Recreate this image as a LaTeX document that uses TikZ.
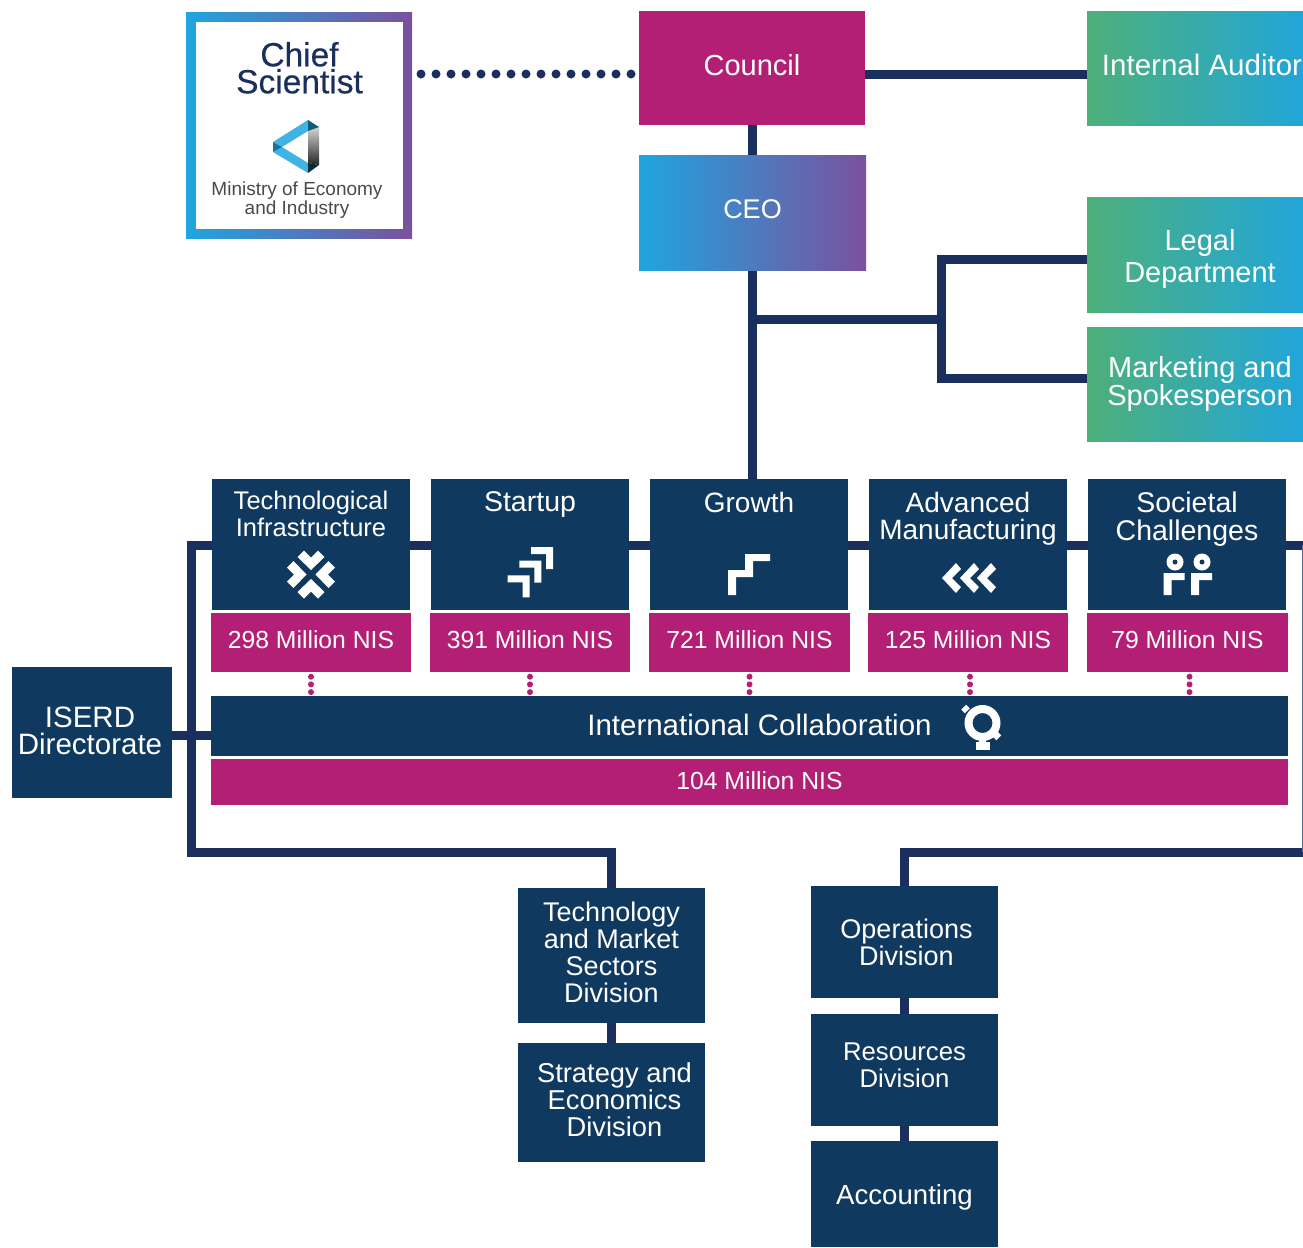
\documentclass[tikz,border=0pt]{standalone}
\usepackage{fontspec}
\setmainfont{Liberation Sans}
\newfontface\chieffont[FakeBold=0.4]{Liberation Sans}
\usetikzlibrary{backgrounds,calc}
\definecolor{navy}{HTML}{10395F}
\definecolor{linec}{HTML}{1B2F5E}
\definecolor{mag}{HTML}{B31F74}
\definecolor{gblue}{HTML}{1FA5DF}
\definecolor{gpurp}{HTML}{7B519E}
\definecolor{ggreen}{HTML}{4DB07A}
\definecolor{greytext}{HTML}{4A4A4A}
\newlength{\pxu}\setlength{\pxu}{0.75pt}
\newcommand{\fs}[2]{\fontsize{#1\pxu}{#2\pxu}\selectfont}
\tikzset{
  bx/.style={inner sep=0pt,outer sep=0pt,text=white,font=\fs{28}{27}},
  sz/.style={font=\fs{#1}{27}},
  navybox/.style={bx,fill=navy},
  magbox/.style={bx,fill=mag,font=\fs{24.7}{25}},
  flatmag/.style={bx,fill=mag},
  bluepurple/.style={bx,left color=gblue,right color=gpurp},
  greenblue/.style={bx,left color=ggreen,right color=gblue},
  conn/.style={draw=linec,line width=9\pxu},
  thinconn/.style={draw=linec!70,line width=1\pxu},
  dotline/.style={draw=linec,line width=9\pxu,line cap=round,dash pattern=on 0pt off 15\pxu,dash phase=6\pxu},
  magdots/.style={draw=mag,line width=6\pxu,line cap=round,dash pattern=on 0pt off 7.7\pxu,dash phase=3\pxu},
  icon/.style={fill=white,draw=none},
}
% \rbox{name}{x0}{y0}{x1}{y1}{style}{dx}{up}{text}: the text is moved dx to the right and up upwards from the box centre
\newcommand{\rbox}[9]{\node[#6,anchor=north west] (#1) at (#2,#3) {\parbox[c][\dimexpr#5\pxu-#3\pxu\relax][c]{\dimexpr#4\pxu-#2\pxu\relax}{\centering\leftskip=\dimexpr#7\pxu\relax plus 1fil\relax\rightskip=\dimexpr-#7\pxu\relax plus 1fil\relax\leavevmode #9\par\vspace{\dimexpr2\pxu*(#8)\relax}}};}
% \tbox{name}{x0}{padding}{size}{text}
\newcommand{\tbox}[5]{\node[navybox,anchor=north west,font=\fs{#4}{27.5}] (#1) at (#2,479) {\parbox[c][131\pxu][t]{198\pxu}{\centering\vspace*{#3\pxu}#5}};}
\begin{document}
\begin{tikzpicture}[x=0.75pt,y=-0.75pt]
\useasboundingbox (0,0) rectangle (1303,1247);
% chief scientist
\rbox{chief}{186}{12}{412}{238}{bluepurple}{0}{0}{}
\node[bx,fill=white,anchor=north west,text=linec,font=\fs{33.5}{27}\chieffont] (chiefin) at (196,22) {\parbox[c][207\pxu][t]{207\pxu}{\centering\vspace*{20\pxu}Chief\\Scientist}};
\node[bx,align=center,text=greytext,font=\fs{19}{19}] (ministry) at (297,200) {Ministry of Economy\\and Industry};
\rbox{council}{639}{11}{865}{125}{flatmag,sz=29}{0}{3}{Council}
\rbox{auditor}{1087}{11}{1317}{125}{greenblue,sz=29.5}{0}{3}{Internal Auditor}
\rbox{ceo}{639}{155}{866}{270}{bluepurple,sz=27}{0}{3}{CEO}
\rbox{legal}{1087}{197}{1313}{312}{greenblue,sz=29}{0}{-4}{Legal\\[5\pxu]Department}
\rbox{marketing}{1087}{327}{1313}{441}{greenblue,sz=29}{0}{0}{Marketing and\\Spokesperson}
\tbox{tech}{212}{12}{25.5}{Technological\\Infrastructure}
\tbox{startup}{431}{13}{28.5}{Startup}
\tbox{growth}{650}{13}{28}{Growth}
\tbox{adv}{869}{13}{28}{Advanced\\Manufacturing}
\tbox{soc}{1088}{13}{28.5}{Societal\\Challenges}
\rbox{m1}{211}{613}{411}{672}{magbox}{0}{3}{298 Million NIS}
\rbox{m2}{430}{613}{630}{672}{magbox}{0}{3}{391 Million NIS}
\rbox{m3}{649}{613}{850}{672}{magbox}{0}{3}{721 Million NIS}
\rbox{m4}{868}{613}{1068}{672}{magbox}{0}{3}{125 Million NIS}
\rbox{m5}{1087}{613}{1288}{672}{magbox}{0}{3}{79 Million NIS}
\rbox{intl}{211}{696}{1288}{756}{navybox,sz=29.5}{10}{1}{International Collaboration}
\rbox{m6}{211}{759}{1288}{805}{magbox}{10}{1}{104 Million NIS}
\rbox{iserd}{12}{667}{172}{798}{navybox,sz=29.5}{-2}{2}{ISERD\\Directorate}
\rbox{tm}{518}{888}{705}{1023}{navybox,sz=27}{0}{3}{Technology\\and Market\\Sectors\\Division}
\rbox{strat}{518}{1043}{705}{1162}{navybox,sz=27.3}{3}{3}{Strategy and\\Economics\\Division}
\rbox{ops}{811}{886}{998}{998}{navybox,sz=27}{2}{0}{Operations\\Division}
\rbox{res}{811}{1014}{998}{1126}{navybox,sz=25.7}{0}{5}{Resources\\Division}
\rbox{acc}{811}{1141}{998}{1247}{navybox,sz=27.6}{0}{-3}{Accounting}
% coordinates for connectors
\coordinate (dotsY) at (0,74);
\coordinate (busL) at (191,545);
\coordinate (busR) at (1303,545);
\coordinate (lowL) at (191,852);
\coordinate (lowA) at (611,852);
\coordinate (lowB) at (904,852);
\coordinate (lowR) at (1303,852);
\coordinate (branch) at (752,319);
\coordinate (fork) at (941,319);
\coordinate (forkA) at (941,259);
\coordinate (forkB) at (941,378);
\coordinate (iserdY) at (0,735);
\begin{scope}[on background layer]
\draw[dotline] (chief.east |- dotsY) -- (council.west |- dotsY);
\draw[conn] (council.east |- dotsY) -- (auditor.west |- dotsY);
\draw[conn] (council.south -| branch) -- (ceo.north -| branch);
\draw[conn] (ceo.south -| branch) -- (growth.north -| branch);
\draw[conn] (branch) -- (fork);
\draw[conn,line cap=rect] (forkA) -- (forkB);
\draw[conn] (forkA) -- (legal.west |- forkA);
\draw[conn] (forkB) -- (marketing.west |- forkB);
\draw[conn,line join=miter] (busR) -- (busL) -- (lowL) -- (lowA) -- (tm.north -| lowA);
\draw[conn] (iserd.east |- iserdY) -- (intl.west |- iserdY);
\draw[conn] (tm.south -| lowA) -- (strat.north -| lowA);
\draw[conn,line join=miter] (lowR) -- (lowB) -- (ops.north -| lowB);
\draw[conn] (ops.south -| lowB) -- (res.north -| lowB);
\draw[conn] (res.south -| lowB) -- (acc.north -| lowB);
\draw[thinconn] (1302.5,545) -- (1302.5,852);
\draw[magdots] (m1.south) -- (intl.north -| m1.south);
\draw[magdots] (m2.south) -- (intl.north -| m2.south);
\draw[magdots] (m3.south) -- (intl.north -| m3.south);
\draw[magdots] ($(m4.south)+(2,0)$) -- ($(intl.north -| m4.south)+(2,0)$);
\draw[magdots] ($(m5.south)+(2,0)$) -- ($(intl.north -| m5.south)+(2,0)$);
\end{scope}
% logo
\fill[color=gblue!85!white] (273,142) -- (308,120) -- (308,131) -- (282,147) -- cycle;
\fill[color=gblue!85!white] (273,152) -- (282,147) -- (308,163) -- (308,173) -- cycle;
\shade[top color=black!15,middle color=black!32,bottom color=black!85] (308,130) -- (319,126) -- (319,165) -- (308,163) -- cycle;
\fill[color=gblue!70!black] (273,142) -- (282,147) -- (273,152) -- cycle;
\fill[color=gblue!55!black] (308,120) -- (319,127) -- (308,131) -- cycle;
\fill[color=black!75!gblue] (308,173) -- (319,165) -- (308,163) -- cycle;
% technological infrastructure icon
\foreach \r in {0,90,180,270}{
  \fill[icon,shift={(311,574.5)},rotate=\r] (-7,-24) -- (0,-17) -- (7,-24) -- (13.5,-17.5) -- (0,-4.5) -- (-13.5,-17.5) -- cycle;
}
% startup icon
\foreach \dx/\dy in {0/0,-11.7/13.7,-23.3/28.3}{
  \fill[icon,shift={(\dx,\dy)}] (531,547) -- (553,547) -- (553,569) -- (546,569) -- (546,554) -- (531,554) -- cycle;
}
% growth icon
\fill[icon] (728,595) -- (736,595) -- (736,577) -- (753,577) -- (753,561) -- (770,561) -- (770,554) -- (745,554) -- (745,570) -- (728,570) -- cycle;
% advanced manufacturing icon
\foreach \t in {942,960,977}{
  \fill[icon,shift={(\t,578)}] (0,0) -- (14,-15) -- (19,-9) -- (10,0) -- (19,9) -- (14,15) -- cycle;
}
% societal challenges icon
\foreach \x/\b in {1175/1163.5,1202/1191}{
  \fill[icon] (\x,562) circle[radius=8.5];
  \fill[navy] (\x,562) circle[radius=2.5];
  \fill[icon] (\b,573) -- (\b+21,573) -- (\b+21,580) -- (\b+8,580) -- (\b+8,595) -- (\b,595) -- cycle;
}
% international collaboration icon
\fill[icon,even odd rule] (982.5,723) circle[radius=18] (982.5,723) circle[radius=10];
\fill[icon] (979,738) rectangle (986,744);
\fill[icon] (975.5,742) rectangle (990,749.5);
\fill[icon,rotate around={45:(965.5,709)}] (962,706.5) rectangle (969,711.5);
\fill[icon,rotate around={45:(997,736)}] (993.5,733.5) rectangle (1000.5,738.5);
\end{tikzpicture}
\end{document}
